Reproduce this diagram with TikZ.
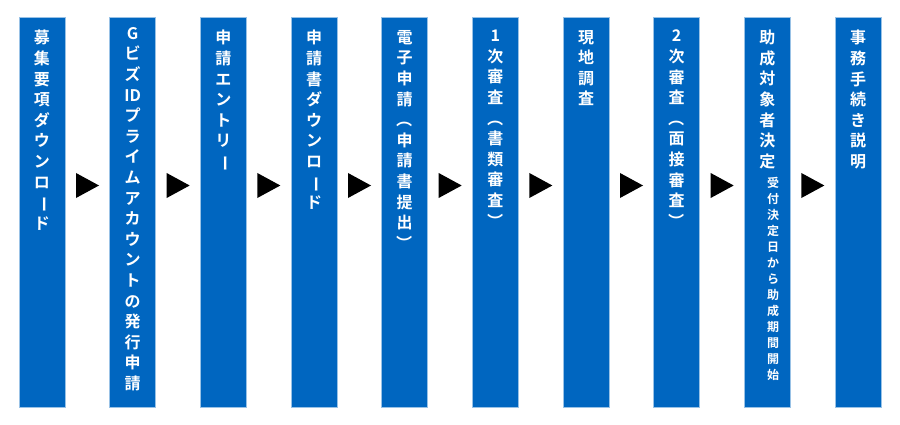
\documentclass[tikz,border=0pt]{standalone}
\usepackage{fontspec}
\setmainfont{Noto Sans CJK JP}[BoldFont={Noto Sans CJK JP Bold}]
\usepackage{graphicx}
\newcommand{\vbar}{\rotatebox[origin=c]{-90}{ー}}
\newcommand{\vlp}{\rotatebox[origin=c]{-90}{（}}
\newcommand{\vrp}{\rotatebox[origin=c]{-90}{）}}
\tikzset{
  col/.style={fill=colblue,draw=colblue!40,line width=0.5pt},
  lbl/.style={anchor=north,text=white,align=center,inner sep=0pt,font=\bfseries\fontsize{16}{20.6}\selectfont},
  slbl/.style={anchor=north,text=white,align=center,inner sep=0pt,font=\bfseries\fontsize{12}{16}\selectfont},
  tri/.style={fill=black}
}
\definecolor{colblue}{HTML}{0066C0}
\begin{document}
\begin{tikzpicture}[x=1pt,y=-1pt]
\useasboundingbox (0,0) rectangle (900,425);
\foreach \i in {0,...,9}{
  \pgfmathsetmacro{\xl}{19+\i*90.67}
  \draw[col] (\xl,17) rectangle ++(46,390);
}
\foreach \i in {0,...,8}{
  \pgfmathsetmacro{\xt}{76+\i*90.67}
  \fill[tri] (\xt,173) -- (\xt+23,185.5) -- (\xt,198) -- cycle;
}
\node[lbl] (c1) at (42,30) {募\\集\\要\\項\\ダ\\ウ\\ン\\ロ\\\vbar\\ド};
\node[lbl] (c2) at (132.7,27) {G\\ビ\\ズ\\ID\\プ\\ラ\\イ\\ム\\ア\\カ\\ウ\\ン\\ト\\の\\発\\行\\申\\請};
\node[lbl] (c3) at (223.3,30) {申\\請\\エ\\ン\\ト\\リ\\\vbar};
\node[lbl] (c4) at (314,30) {申\\請\\書\\ダ\\ウ\\ン\\ロ\\\vbar\\ド};
\node[lbl] (c5) at (404.7,30) {電\\子\\申\\請\\\vlp\\申\\請\\書\\提\\出\\\vrp};
\node[lbl] (c6) at (495.3,30) {1\\次\\審\\査\\\vlp\\書\\類\\審\\査\\\vrp};
\node[lbl] (c7) at (586,30) {現\\地\\調\\査};
\node[lbl] (c8) at (676.7,30) {2\\次\\審\\査\\\vlp\\面\\接\\審\\査\\\vrp};
\node[lbl] (c9) at (767.3,30) {助\\成\\対\\象\\者\\決\\定};
\node[slbl] (c9b) at (773,177) {受\\付\\決\\定\\日\\か\\ら\\助\\成\\期\\間\\開\\始};
\node[lbl] (c10) at (858,30) {事\\務\\手\\続\\き\\説\\明};
\end{tikzpicture}
\end{document}
